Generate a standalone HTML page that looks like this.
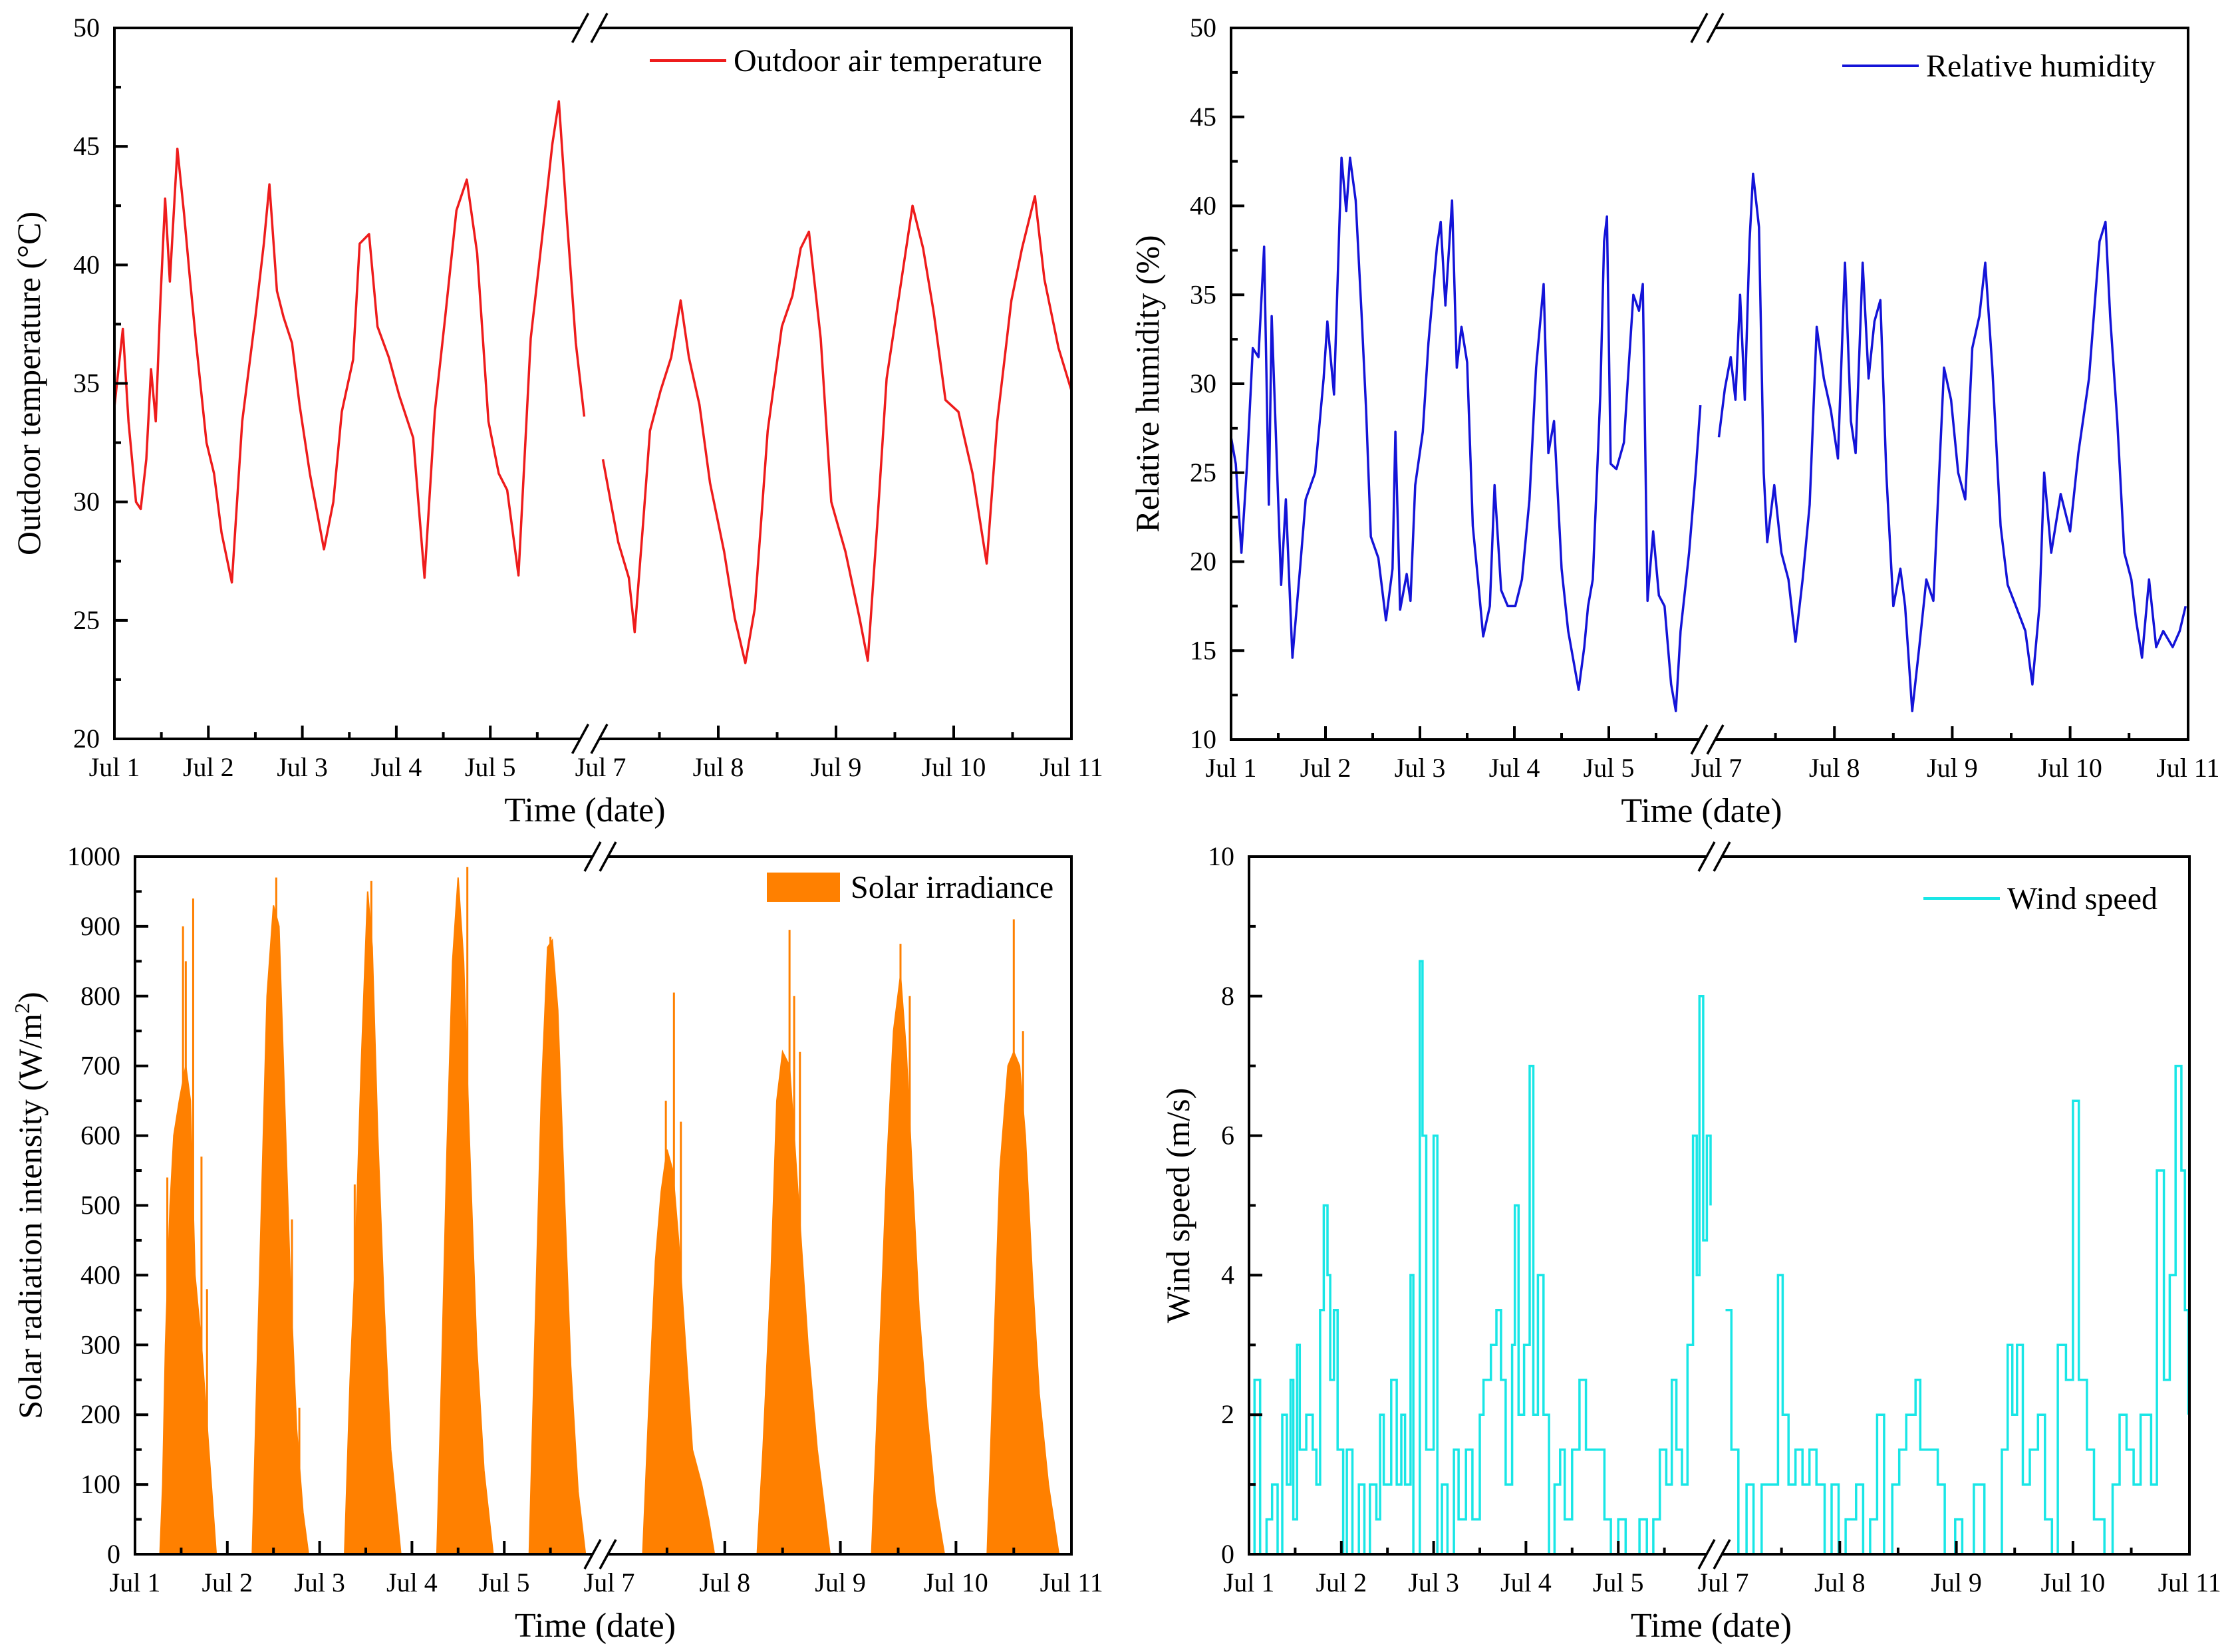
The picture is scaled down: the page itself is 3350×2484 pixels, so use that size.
<!DOCTYPE html>
<html><head><meta charset="utf-8">
<style>
html,body{margin:0;padding:0;background:#fff;}
svg{display:block;font-family:"Liberation Serif",serif;}
</style></head>
<body>
<svg id="fig" xmlns="http://www.w3.org/2000/svg" width="3350" height="2484" viewBox="0 0 3350 2484"></svg>
<script>
// ---------- DATA (t = days since Jul 1 00:00) ----------
const dayLabels1 = ["Jul 1","Jul 2","Jul 3","Jul 4","Jul 5"];
const dayLabels2 = ["Jul 7","Jul 8","Jul 9","Jul 10","Jul 11"];
const tempTicks = [20,25,30,35,40,45,50];
const rhTicks = [10,15,20,25,30,35,40,45,50];
const solarTicks = [0,100,200,300,400,500,600,700,800,900,1000];
const windTicks = [0,2,4,6,8,10];

const tempT1 = [0,.09,.15,.23,.28,.34,.39,.44,.49,.54,.59,.67,.74,.80,.87,.98,1.06,1.14,1.25,1.36,1.50,1.59,1.65,1.73,1.80,1.89,1.97,2.08,2.23,2.33,2.42,2.54,2.61,2.71,2.80,2.92,3.03,3.18,3.30,3.41,3.52,3.64,3.75,3.86,3.98,4.09,4.18,4.30,4.43,4.55,4.66,4.73,4.81,4.91,5.0];
const tempV1 = [34,37.3,33.4,30,29.7,31.8,35.6,33.4,38.5,42.8,39.3,44.9,42.2,39.6,36.7,32.5,31.2,28.7,26.6,33.4,37.8,40.9,43.4,38.9,37.8,36.7,34.1,31.2,28,30,33.8,36,40.9,41.3,37.4,36.1,34.5,32.7,26.8,33.8,37.8,42.3,43.6,40.5,33.4,31.2,30.5,26.9,36.9,41.1,45.1,46.9,42.2,36.7,33.6];
const tempT2 = [6.02,6.09,6.15,6.24,6.29,6.36,6.42,6.51,6.60,6.68,6.75,6.84,6.93,7.05,7.14,7.23,7.31,7.42,7.54,7.63,7.70,7.77,7.87,7.96,8.08,8.20,8.27,8.35,8.43,8.53,8.65,8.74,8.83,8.93,9.04,9.16,9.28,9.37,9.49,9.58,9.69,9.77,9.89,10];
const tempV2 = [31.8,29.9,28.3,26.8,24.5,29,33,34.7,36.1,38.5,36.1,34.1,30.8,27.9,25.1,23.2,25.5,33,37.4,38.7,40.7,41.4,36.9,30,27.9,25.1,23.3,29,35.2,38.5,42.5,40.7,38,34.3,33.8,31.2,27.4,33.4,38.5,40.7,42.9,39.4,36.5,34.7];

const rhT1 = [0,.05,.11,.17,.23,.29,.35,.40,.43,.47,.53,.58,.65,.73,.79,.89,.98,1.02,1.09,1.17,1.22,1.26,1.32,1.38,1.43,1.48,1.56,1.64,1.71,1.74,1.79,1.86,1.90,1.95,2.03,2.09,2.18,2.22,2.27,2.34,2.39,2.44,2.50,2.56,2.62,2.67,2.74,2.79,2.86,2.93,3.01,3.08,3.16,3.23,3.31,3.36,3.42,3.50,3.57,3.68,3.74,3.78,3.83,3.91,3.95,3.98,4.02,4.08,4.16,4.21,4.26,4.32,4.36,4.41,4.47,4.53,4.59,4.66,4.71,4.76,4.85,4.92,4.97];
const rhV1 = [27,25.5,20.5,25.5,32,31.5,37.7,23.2,33.8,27.9,18.7,23.5,14.6,19.6,23.5,25,30.3,33.5,29.4,42.7,39.7,42.7,40.3,34.1,28.5,21.4,20.2,16.7,19.6,27.3,17.3,19.3,17.8,24.3,27.3,32.3,37.7,39.1,34.4,40.3,30.9,33.2,31.2,22,18.7,15.8,17.5,24.3,18.4,17.5,17.5,19,23.5,30.9,35.6,26.1,27.9,19.6,16.1,12.8,15.2,17.5,19,29.4,38,39.4,25.5,25.2,26.7,30.9,35,34.1,35.6,17.8,21.7,18.1,17.5,13.1,11.6,16.1,20.5,25,28.8];
const rhT2 = [6.02,6.07,6.12,6.16,6.20,6.24,6.28,6.31,6.36,6.40,6.43,6.49,6.55,6.61,6.67,6.73,6.79,6.85,6.91,6.97,7.03,7.09,7.14,7.18,7.24,7.29,7.34,7.39,7.44,7.50,7.56,7.60,7.66,7.72,7.78,7.84,7.93,7.99,8.05,8.11,8.17,8.23,8.28,8.34,8.41,8.47,8.54,8.62,8.68,8.74,8.78,8.84,8.92,9.00,9.07,9.16,9.25,9.30,9.34,9.40,9.46,9.52,9.56,9.61,9.67,9.73,9.79,9.87,9.93,9.98];
const rhV2 = [27,29.7,31.5,29.1,35,29.1,38,41.8,38.8,25,21.1,24.3,20.5,19,15.5,19,23.2,33.2,30.3,28.5,25.8,36.8,27.9,26.1,36.8,30.3,33.5,34.7,25,17.5,19.6,17.5,11.6,15.2,19,17.8,30.9,29.1,25,23.5,32,33.8,36.8,30.9,22,18.7,17.5,16.1,13.1,17.5,25,20.5,23.8,21.7,26.1,30.3,38,39.1,33.8,27.9,20.5,19,16.7,14.6,19,15.2,16.1,15.2,16.1,17.5];

const solarT = [.27,.30,.33,.38,.42,.48,.55,.60,.65,.72,.80,.88, 1.27,1.32,1.38,1.43,1.50,1.56,1.62,1.68,1.75,1.82,1.88, 2.27,2.33,2.38,2.45,2.52,2.57,2.63,2.70,2.77,2.88, 3.27,3.32,3.38,3.44,3.50,3.56,3.62,3.70,3.78,3.88, 4.27,4.33,4.40,4.47,4.52,4.58,4.65,4.72,4.80,4.88, 6.29,6.34,6.40,6.45,6.50,6.55,6.60,6.66,6.72,6.80,6.86,6.91, 7.28,7.33,7.40,7.45,7.50,7.56,7.60,7.66,7.72,7.80,7.91, 8.27,8.33,8.40,8.46,8.52,8.57,8.62,8.68,8.75,8.82,8.90, 9.27,9.32,9.38,9.45,9.50,9.55,9.60,9.66,9.72,9.80,9.89];
const solarV = [0,100,300,500,600,650,700,650,400,300,150,0, 0,250,550,800,930,900,650,400,180,60,0, 0,250,400,700,950,870,600,350,150,0, 0,250,580,850,970,850,600,300,120,0, 0,300,650,870,880,780,520,270,90,0, 0,200,420,520,580,550,450,300,150,100,50,0, 0,150,400,650,720,700,600,450,300,150,0, 0,250,550,750,830,720,550,350,200,80,0, 0,250,550,700,720,700,600,400,230,100,0];
const solarSpikeT = [.35,.38,.52,.55,.63,.72,.78,1.53,1.70,1.78,2.38,2.56,3.60,4.50,6.49,6.56,6.62,7.56,7.60,7.65,8.52,8.60,9.50,9.58];
const solarSpikeV = [540,340,900,850,940,570,380,970,480,210,530,965,985,885,650,805,620,895,800,720,875,800,910,750];

const windT1 = [0,.06,.12,.19,.25,.31,.36,.41,.45,.48,.52,.55,.62,.69,.73,.77,.81,.85,.88,.92,.96,1.02,1.06,1.12,1.19,1.25,1.31,1.38,1.42,1.46,1.54,1.60,1.65,1.69,1.75,1.78,1.85,1.88,1.92,2.00,2.04,2.09,2.15,2.22,2.27,2.35,2.42,2.50,2.54,2.62,2.68,2.73,2.78,2.85,2.88,2.92,2.98,3.04,3.08,3.13,3.19,3.25,3.31,3.37,3.42,3.50,3.58,3.65,3.77,3.85,3.92,4.00,4.08,4.23,4.31,4.38,4.45,4.52,4.58,4.63,4.69,4.75,4.81,4.85,4.88,4.92,4.96,5.0];
const windV1 = [0,2.5,0,0.5,1,0,2,1,2.5,0.5,3,1.5,2,1.5,1,3.5,5,4,2.5,3.5,1.5,0,1.5,0,1,0,1,0.5,2,1,2.5,1,2,1,4,0,8.5,6,1.5,6,0,1,0,1.5,0.5,1.5,0.5,2,2.5,3,3.5,2.5,1,3,5,2,3,7,2,4,2,0,1,1.5,0.5,1.5,2.5,1.5,1.5,0.5,0,0.5,0,0.5,0,0.5,1.5,1,2.5,1.5,1,3,6,4,8,4.5,6,5];
const windT2 = [6.02,6.07,6.13,6.20,6.26,6.33,6.41,6.47,6.51,6.56,6.62,6.68,6.74,6.80,6.87,6.93,6.99,7.05,7.14,7.20,7.26,7.32,7.38,7.45,7.51,7.57,7.65,7.69,7.78,7.84,7.90,7.99,8.05,8.15,8.24,8.33,8.39,8.44,8.48,8.52,8.57,8.63,8.70,8.76,8.82,8.87,8.94,9.00,9.05,9.12,9.18,9.27,9.34,9.40,9.46,9.52,9.58,9.67,9.72,9.78,9.83,9.88,9.93,9.96,9.99];
const windV2 = [3.5,1.5,0,1,0,1,1,4,2,1,1.5,1,1.5,1,0,1,0,0.5,1,0,0.5,2,0,1,1.5,2,2.5,1.5,1.5,1,0,0.5,0,1,0,0,1.5,3,2,3,1,1.5,2,0.5,0,3,2.5,6.5,2.5,1.5,0.5,0,1,2,1.5,1,2,1,5.5,2.5,4,7,5.5,3.5,2];

// ---------- DRAWING ----------
const NS = "http://www.w3.org/2000/svg";
const svg = document.getElementById('fig');
function mk(tag, attrs, parent){
  const e = document.createElementNS(NS, tag);
  for (const k in attrs) e.setAttribute(k, attrs[k]);
  (parent||svg).appendChild(e);
  return e;
}

function panel(cfg){
  const g = mk('g', {});
  
  
  const {L,R,T,B,d1,j7,d2,ymin,ymax} = cfg;
  const xs = t => t < 5.5 ? L + t*d1 : j7 + (t-6)*d2;
  const ys = v => B - (v-ymin)/(ymax-ymin)*(B-T);
  cfg.xs = xs; cfg.ys = ys;
  // data first
  const dg = mk('g', {}, g);
  
  
  cfg.draw(dg, xs, ys);
  // axes
  const bx1 = L + 5*d1 - 6, bx2 = j7 - 2;
  const ax = mk('g', {stroke:'#000','stroke-width':4,fill:'none'}, g);
  
  
  mk('line',{x1:L,y1:T,x2:L,y2:B},ax);
  mk('line',{x1:R,y1:T,x2:R,y2:B},ax);
  [T,B].forEach(y=>{
    mk('line',{x1:L-2,y1:y,x2:bx1,y2:y},ax);
    mk('line',{x1:bx2,y1:y,x2:R+2,y2:y},ax);
    mk('line',{x1:bx1-12,y1:y+22,x2:bx1+12,y2:y-22,'stroke-width':3.5},ax);
    mk('line',{x1:bx2-12,y1:y+22,x2:bx2+12,y2:y-22,'stroke-width':3.5},ax);
  });
  // x ticks
  for (let i=0;i<=4;i++){ mk('line',{x1:xs(i),y1:B,x2:xs(i),y2:B-20},ax); mk('line',{x1:xs(i+.5),y1:B,x2:xs(i+.5),y2:B-10},ax); }
  for (let i=6;i<=10;i++){ if(i<10){mk('line',{x1:xs(i+.5),y1:B,x2:xs(i+.5),y2:B-10},ax);} if(i>6&&i<10) mk('line',{x1:xs(i),y1:B,x2:xs(i),y2:B-20},ax); }
  const lab = mk('g',{'font-size':40,'text-anchor':'middle',fill:'#000'},g);
  
  
  dayLabels1.forEach((s,i)=>{ const t=mk('text',{x:xs(i),y:B+56},lab); t.textContent=s; });
  dayLabels2.forEach((s,i)=>{ const t=mk('text',{x:xs(6+i),y:B+56},lab); t.textContent=s; });
  // y ticks
  const yl = mk('g',{'font-size':40,'text-anchor':'end',fill:'#000'},g);
  
  
  cfg.ticks.forEach((v,i)=>{
    mk('line',{x1:L,y1:ys(v),x2:L+20,y2:ys(v)},ax);
    if(i<cfg.ticks.length-1){ const m=(v+cfg.ticks[i+1])/2; mk('line',{x1:L,y1:ys(m),x2:L+10,y2:ys(m)},ax); }
    const t=mk('text',{x:L-22,y:ys(v)+13},yl); t.textContent=v;
  });
  const xt = mk('text',{x:(L+R)/2-12,y:B+124,'font-size':52,'text-anchor':'middle'},g);
  xt.textContent='Time (date)';
  
  
  const yt = mk('text',{x:0,y:0,'font-size':50,'text-anchor':'middle',transform:`translate(${cfg.ytx},${(T+B)/2}) rotate(-90)`},g);
  yt.innerHTML = cfg.ytitle;
  
  
  // legend
  const lg = mk('g',{},g);
  
  
  if (cfg.legRect) mk('rect',{x:cfg.legX,y:cfg.legY-22,width:110,height:44,fill:cfg.color},lg);
  else mk('line',{x1:cfg.legX,y1:cfg.legY,x2:cfg.legX+115,y2:cfg.legY,stroke:cfg.color,'stroke-width':4},lg);
  const lt = mk('text',{x:cfg.legX+126,y:cfg.legY+16,'font-size':48},lg);
  lt.textContent = cfg.legend;
}

function linePath(T,V,xs,ys){ return T.map((t,i)=>(i?'L':'M')+xs(t).toFixed(1)+' '+ys(V[i]).toFixed(1)).join(''); }
function stepPath(T,V,xs,ys){ let d=''; T.forEach((t,i)=>{ const x=xs(t).toFixed(1), y=ys(V[i]).toFixed(1); d += i? `H${x}V${y}` : `M${x} ${y}`; }); return d; }

panel({name:'temperature-panel',L:172,R:1611,T:42,B:1111,d1:141.3,j7:903,d2:177,ymin:20,ymax:50,ticks:tempTicks,
  ytx:60,ytitle:'Outdoor temperature (°C)',legend:'Outdoor air temperature',legX:977,legY:91,color:'#ee1c1c',
  draw:(g,xs,ys)=>{
    [[tempT1,tempV1],[tempT2,tempV2]].forEach(([T,V])=>{
      const p=mk('path',{d:linePath(T,V,xs,ys),fill:'none',stroke:'#ee1c1c','stroke-width':3.5,'stroke-linejoin':'round'},g);
      
      
    });
  }});

panel({name:'humidity-panel',L:1851,R:3290,T:42,B:1112,d1:142,j7:2581,d2:177.2,ymin:10,ymax:50,ticks:rhTicks,
  ytx:1742,ytitle:'Relative humidity (%)',legend:'Relative humidity',legX:2770,legY:99,color:'#1414d8',
  draw:(g,xs,ys)=>{
    [[rhT1,rhV1],[rhT2,rhV2]].forEach(([T,V])=>{
      const p=mk('path',{d:linePath(T,V,xs,ys),fill:'none',stroke:'#1414d8','stroke-width':3.5,'stroke-linejoin':'round'},g);
      
      
    });
  }});

panel({name:'solar-panel',L:203,R:1611,T:1288,B:2337,d1:138.8,j7:916,d2:173.8,ymin:0,ymax:1000,ticks:solarTicks,
  ytx:62,ytitle:'Solar radiation intensity (W/m<tspan dy="-18" font-size="32">2</tspan><tspan dy="18">)</tspan>',legend:'Solar irradiance',legX:1153,legY:1334,color:'#ff8000',legRect:true,
  draw:(g,xs,ys)=>{
    let d='';
    solarT.forEach((t,i)=>{ d += (solarV[i]===0 && (i===0||solarV[i-1]===0||true) && (i===0 || solarV[i-1]===0 && false) ? 'M':'') ; });
    d='';
    let start=true;
    solarT.forEach((t,i)=>{
      d += (start?'M':'L') + xs(t).toFixed(1)+' '+ys(solarV[i]).toFixed(1);
      start=false;
      if(solarV[i]===0 && i>0 && solarV[i-1]!==0){ d+='Z'; start=true; }
    });
    const p=mk('path',{d:d,fill:'#ff8000',stroke:'#ff8000','stroke-width':2},g);
    
    
    solarSpikeT.forEach((t,i)=>{
      const s=mk('line',{x1:xs(t),y1:ys(0),x2:xs(t),y2:ys(solarSpikeV[i]),stroke:'#ff8000','stroke-width':3},g);
      
      
    });
  }});

panel({name:'wind-panel',L:1878,R:3292,T:1288,B:2337,d1:138.8,j7:2591,d2:175.3,ymin:0,ymax:10,ticks:windTicks,
  ytx:1788,ytitle:'Wind speed (m/s)',legend:'Wind speed',legX:2892,legY:1351,color:'#19e6e6',
  draw:(g,xs,ys)=>{
    [[windT1,windV1],[windT2,windV2]].forEach(([T,V])=>{
      const p=mk('path',{d:stepPath(T,V,xs,ys),fill:'none',stroke:'#19e6e6','stroke-width':3.5},g);
      
      
    });
  }});
</script>
</body></html>
